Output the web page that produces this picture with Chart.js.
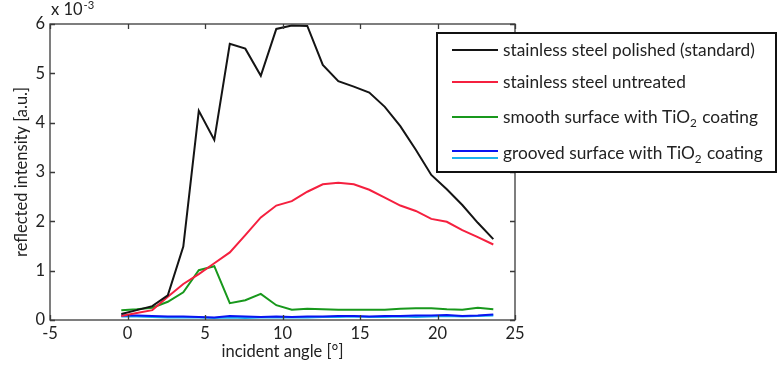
<!DOCTYPE html>
<html><head><meta charset="utf-8">
<script src="https://cdn.jsdelivr.net/npm/chart.js@4"></script>
<style>html,body{margin:0;padding:0;background:#fff;}</style>
</head><body>
<canvas id="c" width="778" height="365"></canvas>
<script>
// ---- data (values in units of 1e-3) ----
const angles = [-0.4, 0.6, 1.6, 2.6, 3.6, 4.6, 5.6, 6.6, 7.6, 8.6, 9.6, 10.6, 11.6, 12.6, 13.6, 14.6, 15.6, 16.6, 17.6, 18.6, 19.6, 20.6, 21.6, 22.6, 23.6];
const polished  = [0.12, 0.2, 0.28, 0.5, 1.49, 4.24, 3.65, 5.6, 5.5, 4.95, 5.9, 5.97, 5.96, 5.17, 4.84, 4.73, 4.61, 4.32, 3.93, 3.45, 2.94, 2.65, 2.33, 1.97, 1.64];
const untreated = [0.08, 0.14, 0.2, 0.47, 0.73, 0.93, 1.15, 1.37, 1.72, 2.08, 2.32, 2.41, 2.6, 2.75, 2.78, 2.75, 2.64, 2.48, 2.32, 2.21, 2.05, 1.99, 1.82, 1.68, 1.53];
const smooth    = [0.2, 0.22, 0.25, 0.37, 0.56, 1.01, 1.09, 0.34, 0.4, 0.53, 0.3, 0.21, 0.23, 0.22, 0.21, 0.21, 0.21, 0.21, 0.23, 0.24, 0.24, 0.22, 0.21, 0.25, 0.22];
const grooved   = [0.09, 0.09, 0.08, 0.07, 0.07, 0.06, 0.05, 0.08, 0.07, 0.06, 0.07, 0.06, 0.07, 0.07, 0.08, 0.08, 0.07, 0.08, 0.08, 0.09, 0.09, 0.1, 0.08, 0.09, 0.11];
const grooved2  = [0.07, 0.07, 0.06, 0.05, 0.05, 0.05, 0.04, 0.05, 0.04, 0.05, 0.05, 0.05, 0.05, 0.06, 0.06, 0.07, 0.06, 0.06, 0.07, 0.06, 0.07, 0.08, 0.07, 0.08, 0.09];
const xTicks = [-5, 0, 5, 10, 15, 20, 25];
const yTicks = [0, 1, 2, 3, 4, 5, 6];
const legendLabels = [
  [["stainless steel polished (standard)", 0]],
  [["stainless steel untreated", 0]],
  [["smooth surface with TiO", 0], ["2", 1], [" coating", 0]],
  [["grooved surface with TiO", 0], ["2", 1], [" coating", 0]]
];
const colors = {black:'#141414', red:'#f5203f', green:'#18981c', blue:'#0a14f0', cyan:'#1ab2ee'};

const FONT = 'Lato';
const FS = 16.5;
const LFS = 17.3;

function pts(ys){ return angles.map((x,i)=>({x:x, y:ys[i]})); }

const ds = (label, data, color) => ({label, data: pts(data), borderColor: color, borderWidth: 2, pointRadius: 0, tension: 0, fill: false});

const deco = {
  id: 'deco',
  afterDatasetsDraw(chart){
    const {ctx, chartArea: a, scales:{x, y}} = chart;
    ctx.save();
    ctx.strokeStyle = '#3a3a3a';
    ctx.lineWidth = 1.3;
    ctx.strokeRect(a.left, a.top, a.right - a.left, a.bottom - a.top);
    const tl = 5;
    ctx.beginPath();
    xTicks.forEach(v => {
      const px = Math.round(x.getPixelForValue(v)) + 0.5;
      ctx.moveTo(px, a.bottom); ctx.lineTo(px, a.bottom - tl);
      ctx.moveTo(px, a.top); ctx.lineTo(px, a.top + tl);
    });
    yTicks.forEach(v => {
      const py = Math.round(y.getPixelForValue(v)) + 0.5;
      ctx.moveTo(a.left, py); ctx.lineTo(a.left + tl, py);
      ctx.moveTo(a.right, py); ctx.lineTo(a.right - tl, py);
    });
    ctx.stroke();
    // exponent label
    ctx.fillStyle = '#222';
    ctx.textBaseline = 'alphabetic';
    ctx.font = `${FS}px ${FONT}`;
    ctx.fillText('x 10', a.left + 1, a.top - 9);
    const w = ctx.measureText('x 10').width;
    ctx.font = `${FS*0.68}px ${FONT}`;
    ctx.fillText('-3', a.left + 1 + w + 1, a.top - 15);

    // legend box
    const L = 437, T = 33, R = 776, B = 172;
    ctx.fillStyle = '#fff';
    ctx.fillRect(L, T, R - L, B - T);
    ctx.strokeStyle = '#111';
    ctx.lineWidth = 2;
    ctx.strokeRect(L, T, R - L, B - T);
    const rows = [50, 82, 117, 153];
    const lineCols = [[colors.black], [colors.red], [colors.green], [colors.blue, colors.cyan]];
    rows.forEach((ry, i) => {
      ctx.lineWidth = 2;
      if (lineCols[i].length === 1) {
        ctx.strokeStyle = lineCols[i][0];
        ctx.beginPath(); ctx.moveTo(452, ry); ctx.lineTo(498, ry); ctx.stroke();
      } else {
        ctx.strokeStyle = lineCols[i][0];
        ctx.beginPath(); ctx.moveTo(452, ry - 2); ctx.lineTo(498, ry - 2); ctx.stroke();
        ctx.strokeStyle = lineCols[i][1];
        ctx.beginPath(); ctx.moveTo(452, ry + 5); ctx.lineTo(498, ry + 5); ctx.stroke();
      }
      let tx = 503;
      ctx.fillStyle = '#222';
      ctx.textBaseline = 'middle';
      legendLabels[i].forEach(([t, sub]) => {
        ctx.font = sub ? `${LFS*0.68}px ${FONT}` : `${LFS}px ${FONT}`;
        ctx.fillText(t, tx, sub ? ry + 6 : ry);
        tx += ctx.measureText(t).width + (sub ? 1 : 0);
      });
    });
    ctx.restore();
  }
};

new Chart(document.getElementById('c'), {
  type: 'line',
  data: {
    datasets: [
      ds('stainless steel polished (standard)', polished, colors.black),
      ds('stainless steel untreated', untreated, colors.red),
      ds('smooth surface with TiO2 coating', smooth, colors.green),
      ds('grooved surface with TiO2 coating', grooved, colors.blue),
      ds('grooved surface with TiO2 coating (2)', grooved2, colors.cyan)
    ]
  },
  options: {
    responsive: false,
    animation: false,
    devicePixelRatio: 1,
    layout: {padding: {top: 24, right: 263, left: 0, bottom: 0}},
    plugins: {legend: {display: false}, tooltip: {enabled: false}},
    scales: {
      x: {
        type: 'linear', min: -5, max: 25,
        afterBuildTicks: s => { s.ticks = xTicks.map(v => ({value: v})); },
        afterFit: s => { s.height = 45; },
        grid: {display: false, drawTicks: false},
        border: {display: false},
        ticks: {font: {family: FONT, size: FS}, color: '#222', padding: 4, maxRotation: 0},
        title: {display: true, text: 'incident angle [°]', font: {family: FONT, size: FS}, color: '#222', padding: {top: 0, bottom: 3}}
      },
      y: {
        type: 'linear', min: 0, max: 6,
        afterBuildTicks: s => { s.ticks = yTicks.map(v => ({value: v})); },
        afterFit: s => { s.width = 50; },
        grid: {display: false, drawTicks: false},
        border: {display: false},
        ticks: {font: {family: FONT, size: FS}, color: '#222', padding: 5},
        title: {display: true, text: 'reflected intensity [a.u.]', font: {family: FONT, size: FS}, color: '#222', padding: {top: 12, bottom: 0}}
      }
    }
  },
  plugins: [deco]
});
</script>
</body></html>
